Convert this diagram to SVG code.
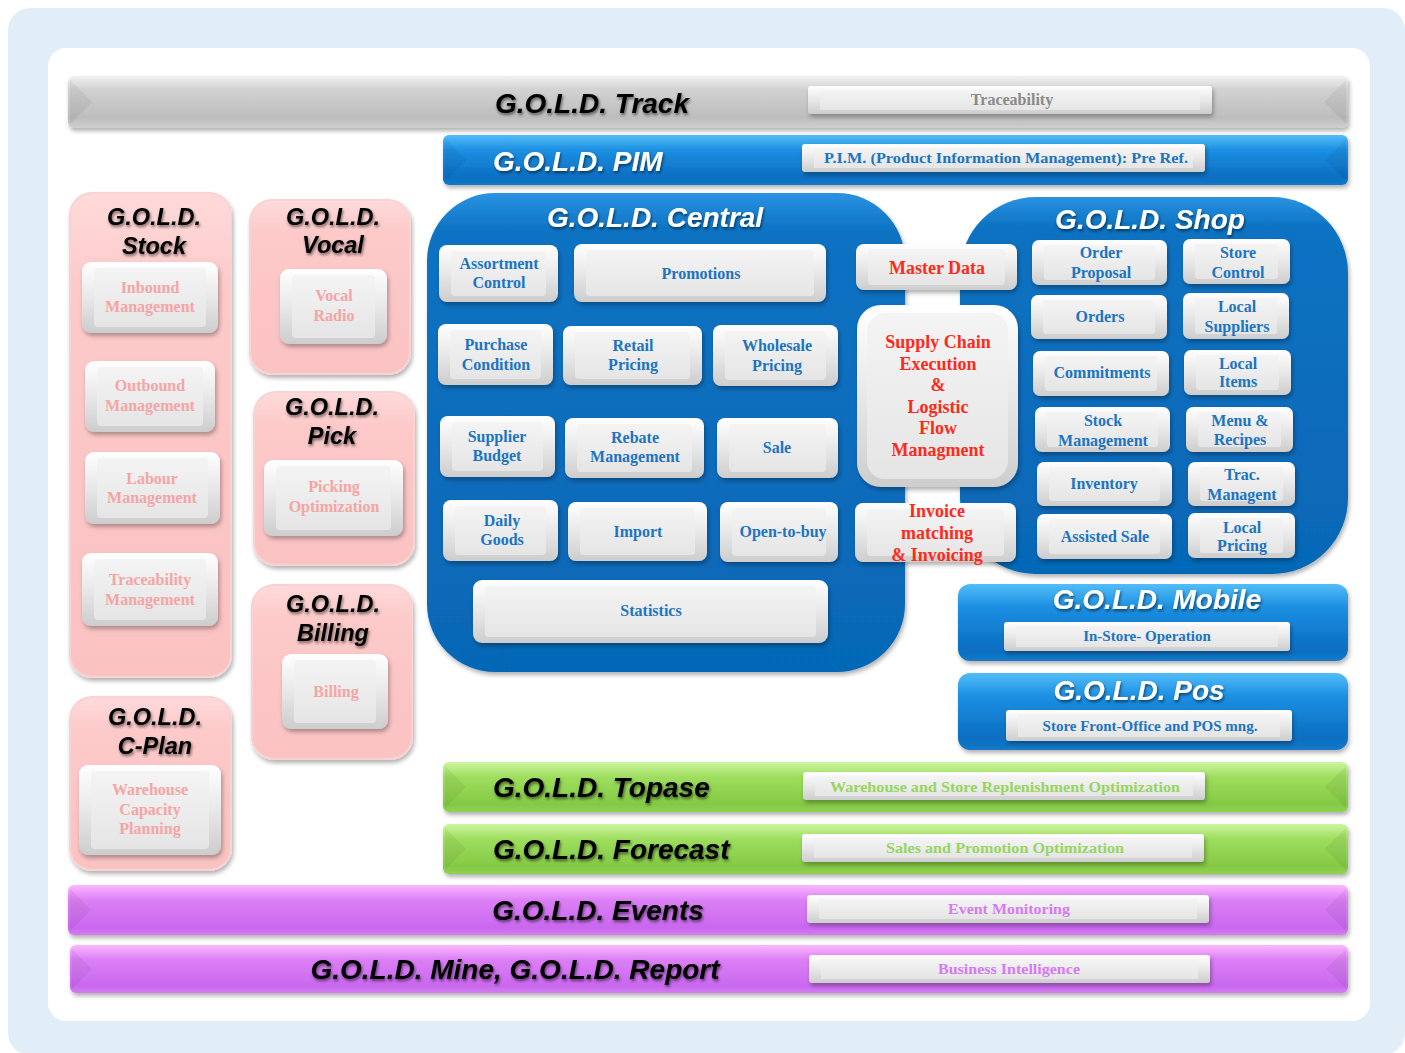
<svg xmlns="http://www.w3.org/2000/svg" width="1405" height="1053" viewBox="0 0 1405 1053">
<defs>
<linearGradient id="gOut" x1="0" y1="0" x2="0" y2="1"><stop offset="0" stop-color="#ffffff"/><stop offset="0.5" stop-color="#e8e8e8"/><stop offset="1" stop-color="#cdcdcd"/></linearGradient>
<linearGradient id="gIn" x1="0" y1="0" x2="0" y2="1"><stop offset="0" stop-color="#f4f4f4"/><stop offset="1" stop-color="#e5e5e5"/></linearGradient>
<linearGradient id="gPink" x1="0" y1="0" x2="0" y2="1"><stop offset="0" stop-color="#ffdada"/><stop offset="0.2" stop-color="#fdc9c9"/><stop offset="1" stop-color="#fbc2c2"/></linearGradient>
<linearGradient id="gGray" x1="0" y1="0" x2="0" y2="1"><stop offset="0" stop-color="#f2f2f2"/><stop offset="0.25" stop-color="#d2d2d2"/><stop offset="0.8" stop-color="#bdbdbd"/><stop offset="1" stop-color="#cfcfcf"/></linearGradient>
<linearGradient id="gBlueBar" x1="0" y1="0" x2="0" y2="1"><stop offset="0" stop-color="#52bdf8"/><stop offset="0.3" stop-color="#1c8fe2"/><stop offset="0.85" stop-color="#0b6ec2"/><stop offset="1" stop-color="#1479c8"/></linearGradient>
<linearGradient id="gGreen" x1="0" y1="0" x2="0" y2="1"><stop offset="0" stop-color="#cdf6a0"/><stop offset="0.3" stop-color="#9ede5e"/><stop offset="0.85" stop-color="#84c944"/><stop offset="1" stop-color="#92d252"/></linearGradient>
<linearGradient id="gPurple" x1="0" y1="0" x2="0" y2="1"><stop offset="0" stop-color="#fbb8ff"/><stop offset="0.3" stop-color="#dc80f6"/><stop offset="0.85" stop-color="#c968ee"/><stop offset="1" stop-color="#d47cf2"/></linearGradient>
<linearGradient id="gBig" x1="0" y1="0" x2="0" y2="1"><stop offset="0" stop-color="#2a92e2"/><stop offset="0.08" stop-color="#0c72c2"/><stop offset="1" stop-color="#0667b6"/></linearGradient>
<filter id="sh" x="-10%" y="-10%" width="130%" height="140%"><feDropShadow dx="1.5" dy="3" stdDeviation="2" flood-color="#000" flood-opacity="0.3"/></filter>
<filter id="tsh" x="-10%" y="-20%" width="130%" height="160%"><feDropShadow dx="1" dy="2" stdDeviation="1.5" flood-color="#000" flood-opacity="0.55"/></filter>
<style>
.bo{fill:url(#gOut);filter:url(#sh)}
.bi{fill:url(#gIn)}
.pk{fill:url(#gPink);stroke:#f7d4d4;stroke-width:2;filter:url(#sh)}
.fac{fill:#000;opacity:0.05}
.t{font-family:"Liberation Serif","Times New Roman",serif;font-weight:bold;font-size:16px;text-anchor:middle}
.blue{fill:#1c74c2}
.red{fill:#ff2a1a;font-size:18px}
.pink{fill:#f7a4a4}
.lbl{font-size:15px}
.gray{fill:#8a8a8a}
.green{fill:#98d560}
.purp{fill:#d67af4}
.h{font-family:"Liberation Sans",Arial,sans-serif;font-weight:bold;font-style:italic;font-size:28px;filter:url(#tsh)}
.hs{font-size:23.5px;text-anchor:middle}
.k{fill:#000}
.w{fill:#fff}
</style>
</defs>

<rect x="8" y="8" width="1397" height="1047" rx="22" fill="#e1eef7"/>
<rect x="48" y="48" width="1322" height="973" rx="18" fill="#ffffff"/>

<g id="connectors"/>

<!-- Track -->
<g id="track">
<rect x="68" y="76" width="1280" height="52" rx="6" fill="url(#gGray)" filter="url(#sh)"/>
<polygon class="fac" points="70,80 92,102 70,124"/>
<polygon class="fac" points="1346,80 1324,102 1346,124"/>
<text class="h k" x="592" y="113" text-anchor="middle">G.O.L.D. Track</text>
<rect class="bo" x="808" y="86" width="404" height="28" rx="3"/>
<rect class="bi" x="820" y="90" width="380" height="20"/>
<text class="t gray" x="1012" y="105">Traceability</text>
</g>

<!-- PIM -->
<g id="pim">
<rect x="443" y="135" width="905" height="50" rx="6" fill="url(#gBlueBar)" filter="url(#sh)"/>
<polygon class="fac" points="445,139 466,160 445,181"/>
<polygon class="fac" points="1346,139 1325,160 1346,181"/>
<text class="h w" x="493" y="171">G.O.L.D. PIM</text>
<rect class="bo" x="802" y="144" width="403" height="28" rx="3"/>
<rect class="bi" x="814" y="148" width="379" height="20"/>
<text class="t blue lbl" x="1006" y="163" textLength="364" lengthAdjust="spacingAndGlyphs">P.I.M. (Product Information Management): Pre Ref.</text>
</g>

<!-- Stock -->
<g id="stock">
<rect class="pk" x="70" y="193" width="161" height="484" rx="22"/>
<text class="h k hs" x="154" y="225">G.O.L.D.</text>
<text class="h k hs" x="154" y="254">Stock</text>
<rect class="bo" x="82" y="262" width="136" height="71" rx="9"/>
<rect class="bi" x="94" y="268" width="112" height="59" rx="4"/>
<text class="t pink" x="150" y="293">Inbound</text><text class="t pink" x="150" y="312">Management</text>
<rect class="bo" x="85" y="361" width="130" height="71" rx="9"/>
<rect class="bi" x="97" y="367" width="106" height="59" rx="4"/>
<text class="t pink" x="150" y="391">Outbound</text><text class="t pink" x="150" y="411">Management</text>
<rect class="bo" x="85" y="452" width="135" height="72" rx="9"/>
<rect class="bi" x="97" y="458" width="111" height="60" rx="4"/>
<text class="t pink" x="152" y="484">Labour</text><text class="t pink" x="152" y="503">Management</text>
<rect class="bo" x="82" y="553" width="136" height="73" rx="9"/>
<rect class="bi" x="94" y="559" width="112" height="61" rx="4"/>
<text class="t pink" x="150" y="585">Traceability</text><text class="t pink" x="150" y="605">Management</text>
</g>

<!-- Vocal -->
<g id="vocal">
<rect class="pk" x="250" y="200" width="160" height="174" rx="22"/>
<text class="h k hs" x="333" y="225">G.O.L.D.</text>
<text class="h k hs" x="333" y="253">Vocal</text>
<rect class="bo" x="280" y="269" width="107" height="75" rx="9"/>
<rect class="bi" x="292" y="275" width="83" height="63" rx="4"/>
<text class="t pink" x="334" y="301">Vocal</text><text class="t pink" x="334" y="321">Radio</text>
</g>

<!-- Pick -->
<g id="pick">
<rect class="pk" x="254" y="392" width="160" height="173" rx="22"/>
<text class="h k hs" x="332" y="415">G.O.L.D.</text>
<text class="h k hs" x="332" y="444">Pick</text>
<rect class="bo" x="264" y="460" width="139" height="76" rx="9"/>
<rect class="bi" x="276" y="466" width="115" height="64" rx="4"/>
<text class="t pink" x="334" y="492">Picking</text><text class="t pink" x="334" y="512">Optimization</text>
</g>

<!-- Billing -->
<g id="billing">
<rect class="pk" x="252" y="585" width="160" height="174" rx="22"/>
<text class="h k hs" x="333" y="612">G.O.L.D.</text>
<text class="h k hs" x="333" y="641">Billing</text>
<rect class="bo" x="282" y="654" width="106" height="75" rx="9"/>
<rect class="bi" x="294" y="660" width="82" height="63" rx="4"/>
<text class="t pink" x="336" y="697">Billing</text>
</g>

<!-- C-Plan -->
<g id="cplan">
<rect class="pk" x="70" y="697" width="161" height="173" rx="22"/>
<text class="h k hs" x="155" y="725">G.O.L.D.</text>
<text class="h k hs" x="155" y="754">C-Plan</text>
<rect class="bo" x="79" y="765" width="142" height="90" rx="9"/>
<rect class="bi" x="91" y="771" width="118" height="78" rx="4"/>
<text class="t pink" x="150" y="795">Warehouse</text><text class="t pink" x="150" y="815">Capacity</text><text class="t pink" x="150" y="834">Planning</text>
</g>

<!-- Central -->
<g id="central">
<rect x="427" y="193" width="478" height="479" rx="68" fill="url(#gBig)" filter="url(#sh)"/>
<text class="h w" x="655" y="227" text-anchor="middle">G.O.L.D. Central</text>
<g id="assortment"><rect class="bo" x="439" y="245" width="119" height="57" rx="8"/><rect class="bi" x="451" y="251" width="95" height="45" rx="4"/>
<text class="t blue" x="499" y="269">Assortment</text><text class="t blue" x="499" y="288">Control</text></g>
<g id="promotions"><rect class="bo" x="574" y="244" width="252" height="58" rx="8"/><rect class="bi" x="586" y="250" width="228" height="46" rx="4"/>
<text class="t blue" x="701" y="279">Promotions</text></g>
<g id="purchase"><rect class="bo" x="438" y="324" width="115" height="61" rx="8"/><rect class="bi" x="450" y="330" width="91" height="49" rx="4"/>
<text class="t blue" x="496" y="350">Purchase</text><text class="t blue" x="496" y="370">Condition</text></g>
<g id="retail"><rect class="bo" x="563" y="326" width="139" height="59" rx="8"/><rect class="bi" x="575" y="332" width="115" height="47" rx="4"/>
<text class="t blue" x="633" y="351">Retail</text><text class="t blue" x="633" y="370">Pricing</text></g>
<g id="wholesale"><rect class="bo" x="713" y="325" width="125" height="61" rx="8"/><rect class="bi" x="725" y="331" width="101" height="49" rx="4"/>
<text class="t blue" x="777" y="351">Wholesale</text><text class="t blue" x="777" y="371">Pricing</text></g>
<g id="supplier"><rect class="bo" x="440" y="416" width="115" height="61" rx="8"/><rect class="bi" x="452" y="422" width="91" height="49" rx="4"/>
<text class="t blue" x="497" y="442">Supplier</text><text class="t blue" x="497" y="461">Budget</text></g>
<g id="rebate"><rect class="bo" x="565" y="418" width="139" height="60" rx="8"/><rect class="bi" x="577" y="424" width="115" height="48" rx="4"/>
<text class="t blue" x="635" y="443">Rebate</text><text class="t blue" x="635" y="462">Management</text></g>
<g id="sale"><rect class="bo" x="717" y="418" width="121" height="60" rx="8"/><rect class="bi" x="729" y="424" width="97" height="48" rx="4"/>
<text class="t blue" x="777" y="453">Sale</text></g>
<g id="daily"><rect class="bo" x="443" y="500" width="115" height="61" rx="8"/><rect class="bi" x="455" y="506" width="91" height="49" rx="4"/>
<text class="t blue" x="502" y="526">Daily</text><text class="t blue" x="502" y="545">Goods</text></g>
<g id="import"><rect class="bo" x="568" y="502" width="139" height="59" rx="8"/><rect class="bi" x="580" y="508" width="115" height="47" rx="4"/>
<text class="t blue" x="638" y="537">Import</text></g>
<g id="otb"><rect class="bo" x="720" y="502" width="118" height="60" rx="8"/><rect class="bi" x="732" y="508" width="94" height="48" rx="4"/>
<text class="t blue" x="783" y="537">Open-to-buy</text></g>
<g id="statistics"><rect class="bo" x="473" y="580" width="355" height="63" rx="9"/><rect class="bi" x="485" y="586" width="331" height="51" rx="4"/>
<text class="t blue" x="651" y="616">Statistics</text></g>
</g>

<!-- Shop -->
<g id="shop">
<rect x="960" y="197" width="388" height="377" rx="76" fill="url(#gBig)" filter="url(#sh)"/>
<text class="h w" x="1150" y="229" text-anchor="middle">G.O.L.D. Shop</text>
<g id="orderproposal"><rect class="bo" x="1032" y="240" width="135" height="45" rx="7"/><rect class="bi" x="1044" y="245" width="111" height="35" rx="3"/>
<text class="t blue" x="1101" y="258">Order</text><text class="t blue" x="1101" y="278">Proposal</text></g>
<g id="storecontrol"><rect class="bo" x="1183" y="239" width="107" height="45" rx="7"/><rect class="bi" x="1195" y="244" width="83" height="35" rx="3"/>
<text class="t blue" x="1238" y="258">Store</text><text class="t blue" x="1238" y="278">Control</text></g>
<g id="orders"><rect class="bo" x="1031" y="295" width="136" height="44" rx="7"/><rect class="bi" x="1043" y="300" width="112" height="34" rx="3"/>
<text class="t blue" x="1100" y="322">Orders</text></g>
<g id="localsuppliers"><rect class="bo" x="1183" y="293" width="106" height="46" rx="7"/><rect class="bi" x="1195" y="298" width="82" height="36" rx="3"/>
<text class="t blue" x="1237" y="312">Local</text><text class="t blue" x="1237" y="332">Suppliers</text></g>
<g id="commitments"><rect class="bo" x="1033" y="351" width="136" height="45" rx="7"/><rect class="bi" x="1045" y="356" width="112" height="35" rx="3"/>
<text class="t blue" x="1102" y="378">Commitments</text></g>
<g id="localitems"><rect class="bo" x="1184" y="350" width="107" height="45" rx="7"/><rect class="bi" x="1196" y="355" width="83" height="35" rx="3"/>
<text class="t blue" x="1238" y="369">Local</text><text class="t blue" x="1238" y="387">Items</text></g>
<g id="stockmgmt"><rect class="bo" x="1035" y="407" width="135" height="45" rx="7"/><rect class="bi" x="1047" y="412" width="111" height="35" rx="3"/>
<text class="t blue" x="1103" y="426">Stock</text><text class="t blue" x="1103" y="446">Management</text></g>
<g id="menu"><rect class="bo" x="1186" y="407" width="107" height="45" rx="7"/><rect class="bi" x="1198" y="412" width="83" height="35" rx="3"/>
<text class="t blue" x="1240" y="426">Menu &amp;</text><text class="t blue" x="1240" y="445">Recipes</text></g>
<g id="inventory"><rect class="bo" x="1037" y="462" width="135" height="44" rx="7"/><rect class="bi" x="1049" y="467" width="111" height="34" rx="3"/>
<text class="t blue" x="1104" y="489">Inventory</text></g>
<g id="trac"><rect class="bo" x="1188" y="462" width="107" height="44" rx="7"/><rect class="bi" x="1200" y="467" width="83" height="34" rx="3"/>
<text class="t blue" x="1242" y="480">Trac.</text><text class="t blue" x="1242" y="500">Managent</text></g>
<g id="assisted"><rect class="bo" x="1037" y="514" width="135" height="45" rx="7"/><rect class="bi" x="1049" y="519" width="111" height="35" rx="3"/>
<text class="t blue" x="1105" y="542">Assisted Sale</text></g>
<g id="localpricing"><rect class="bo" x="1188" y="513" width="107" height="45" rx="7"/><rect class="bi" x="1200" y="518" width="83" height="35" rx="3"/>
<text class="t blue" x="1242" y="533">Local</text><text class="t blue" x="1242" y="551">Pricing</text></g>
</g>

<!-- Middle column -->
<g id="masterdata"><rect class="bo" x="856" y="244" width="161" height="46" rx="8"/><rect class="bi" x="868" y="249" width="137" height="36" rx="4"/>
<text class="t red" x="937" y="274">Master Data</text></g>
<g id="sce"><rect class="bo" x="857" y="305" width="161" height="182" rx="24"/><rect class="bi" x="867" y="313" width="141" height="166" rx="18"/>
<text class="t red" x="938" y="348">Supply Chain</text><text class="t red" x="938" y="370">Execution</text><text class="t red" x="938" y="391">&amp;</text><text class="t red" x="938" y="413">Logistic</text><text class="t red" x="938" y="434">Flow</text><text class="t red" x="938" y="456">Managment</text></g>
<g id="invoice"><rect class="bo" x="855" y="503" width="161" height="59" rx="8"/><rect class="bi" x="867" y="509" width="137" height="47" rx="4"/>
<text class="t red" x="937" y="517">Invoice</text><text class="t red" x="937" y="539">matching</text><text class="t red" x="937" y="561">&amp; Invoicing</text></g>

<!-- Mobile -->
<g id="mobile">
<rect x="958" y="584" width="390" height="77" rx="12" fill="url(#gBlueBar)" filter="url(#sh)"/>
<text class="h w" x="1157" y="609" text-anchor="middle">G.O.L.D. Mobile</text>
<rect class="bo" x="1004" y="622" width="286" height="29" rx="3"/>
<rect class="bi" x="1016" y="626" width="262" height="21"/>
<text class="t blue lbl" x="1147" y="641">In-Store- Operation</text>
</g>

<!-- Pos -->
<g id="pos">
<rect x="958" y="673" width="390" height="77" rx="12" fill="url(#gBlueBar)" filter="url(#sh)"/>
<text class="h w" x="1139" y="700" text-anchor="middle">G.O.L.D. Pos</text>
<rect class="bo" x="1006" y="710" width="286" height="31" rx="3"/>
<rect class="bi" x="1018" y="714" width="262" height="23"/>
<text class="t blue lbl" x="1150" y="731">Store Front-Office and POS mng.</text>
</g>

<!-- Topase -->
<g id="topase">
<rect x="443" y="762" width="905" height="50" rx="6" fill="url(#gGreen)" filter="url(#sh)"/>
<polygon class="fac" points="445,766 466,787 445,808"/>
<polygon class="fac" points="1346,766 1325,787 1346,808"/>
<text class="h k" x="493" y="797">G.O.L.D. Topase</text>
<rect class="bo" x="803" y="772" width="402" height="28" rx="3"/>
<rect class="bi" x="815" y="776" width="378" height="20"/>
<text class="t green lbl" x="1005" y="792" textLength="350" lengthAdjust="spacingAndGlyphs">Warehouse and Store Replenishment Optimization</text>
</g>

<!-- Forecast -->
<g id="forecast">
<rect x="443" y="824" width="905" height="50" rx="6" fill="url(#gGreen)" filter="url(#sh)"/>
<polygon class="fac" points="445,828 466,849 445,870"/>
<polygon class="fac" points="1346,828 1325,849 1346,870"/>
<text class="h k" x="493" y="859">G.O.L.D. Forecast</text>
<rect class="bo" x="802" y="834" width="402" height="28" rx="3"/>
<rect class="bi" x="814" y="838" width="378" height="20"/>
<text class="t green lbl" x="1005" y="853" textLength="238" lengthAdjust="spacingAndGlyphs">Sales and Promotion Optimization</text>
</g>

<!-- Events -->
<g id="events">
<rect x="68" y="885" width="1280" height="50" rx="6" fill="url(#gPurple)" filter="url(#sh)"/>
<polygon class="fac" points="70,889 91,910 70,931"/>
<polygon class="fac" points="1346,889 1325,910 1346,931"/>
<text class="h k" x="598" y="920" text-anchor="middle">G.O.L.D. Events</text>
<rect class="bo" x="807" y="895" width="402" height="28" rx="3"/>
<rect class="bi" x="819" y="899" width="378" height="20"/>
<text class="t purp lbl" x="1009" y="914" textLength="122" lengthAdjust="spacingAndGlyphs">Event Monitoring</text>
</g>

<!-- Mine / Report -->
<g id="mine">
<rect x="70" y="945" width="1278" height="48" rx="6" fill="url(#gPurple)" filter="url(#sh)"/>
<polygon class="fac" points="72,949 92,969 72,989"/>
<polygon class="fac" points="1346,949 1326,969 1346,989"/>
<text class="h k" x="515" y="979" text-anchor="middle">G.O.L.D. Mine, G.O.L.D. Report</text>
<rect class="bo" x="809" y="955" width="401" height="28" rx="3"/>
<rect class="bi" x="821" y="959" width="377" height="20"/>
<text class="t purp lbl" x="1009" y="974" textLength="142" lengthAdjust="spacingAndGlyphs">Business Intelligence</text>
</g>
</svg>
